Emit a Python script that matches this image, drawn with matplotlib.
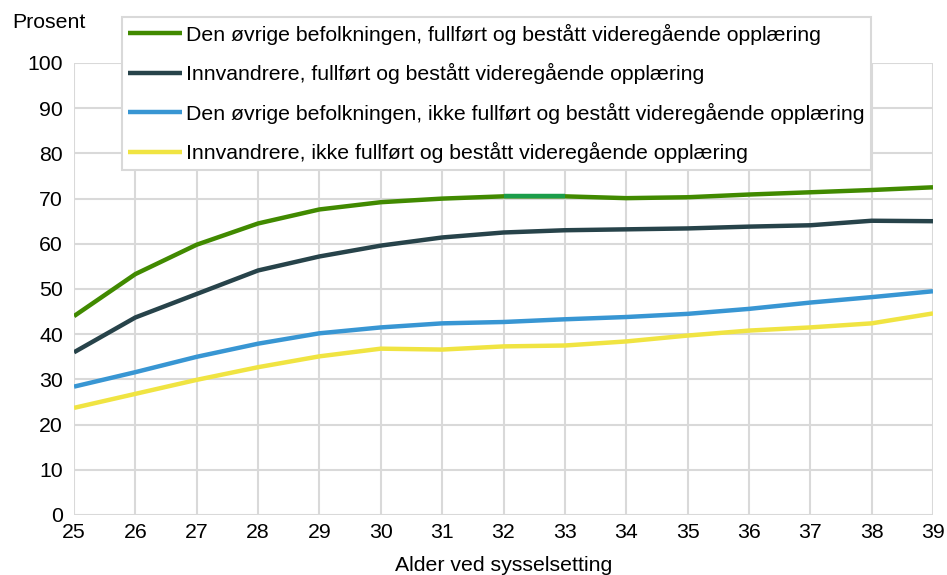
import matplotlib
matplotlib.use("Agg")
import matplotlib.pyplot as plt

plt.rcParams['font.family'] = ['Liberation Sans', 'DejaVu Sans']

ages = list(range(25, 40))
labels = [
    "Den øvrige befolkningen, fullført og bestått videregående opplæring",
    "Innvandrere, fullført og bestått videregående opplæring",
    "Den øvrige befolkningen, ikke fullført og bestått videregående opplæring",
    "Innvandrere, ikke fullført og bestått videregående opplæring",
]
ovrige_fullfort = [44.0, 53.3, 59.8, 64.5, 67.6, 69.2, 70.0, 70.5, 70.5, 70.1, 70.3, 70.9, 71.4, 71.9, 72.5]
innv_fullfort = [36.0, 43.7, 48.9, 54.1, 57.2, 59.6, 61.4, 62.5, 63.0, 63.2, 63.4, 63.8, 64.1, 65.1, 65.0]
ovrige_ikke = [28.4, 31.6, 35.0, 37.9, 40.2, 41.5, 42.4, 42.7, 43.3, 43.8, 44.5, 45.6, 47.0, 48.2, 49.5]
innv_ikke = [23.7, 26.8, 29.9, 32.7, 35.1, 36.8, 36.6, 37.3, 37.5, 38.4, 39.7, 40.8, 41.5, 42.4, 44.6]
series = [ovrige_fullfort, innv_fullfort, ovrige_ikke, innv_ikke]
colors = ["#418a00", "#27434a", "#3896d3", "#f0e442"]

fig = plt.figure(figsize=(9.47, 5.75), dpi=100)
ax = fig.add_axes([74/947, 1-515/575, (933-74)/947, (515-63)/575])

for vals, c, lab in zip(series, colors, labels):
    ax.plot(ages, vals, color=c, lw=3.2, label=lab, solid_capstyle='butt', zorder=3)
# highlighted segment on the first series (32-33)
ax.plot(ages[7:9], ovrige_fullfort[7:9], color="#1a9d4a", lw=3.2, solid_capstyle='butt', zorder=4)

ax.set_xlim(25, 39)
ax.set_ylim(0, 100)
ax.set_xticks(ages)
ax.set_yticks(range(0, 101, 10))
ax.grid(True, color="#d9d9d9", lw=1.5, zorder=0)
for s in ax.spines.values():
    s.set_visible(False)
ax.tick_params(length=0, labelsize=15.3, colors="#000000")
ax.tick_params(axis='y', pad=8)
ax.tick_params(axis='x', pad=6)
ax.set_xlabel("Alder ved sysselsetting", fontsize=15.3, labelpad=10)
fig.text(12/947, 1-22/575, "Prosent", fontsize=15.3, va='center', ha='left')

leg = fig.legend(loc='upper left', bbox_to_anchor=(121.5/947, 1-16.7/575), bbox_transform=fig.transFigure,
                 fontsize=15.3, frameon=True, fancybox=False, handlelength=2.55, handletextpad=0.15,
                 labelspacing=0.87, borderpad=0.32, borderaxespad=0, framealpha=1)
leg.get_frame().set_edgecolor("#d9d9d9")
leg.get_frame().set_linewidth(1.5)

fig.savefig("out.png", dpi=100)
